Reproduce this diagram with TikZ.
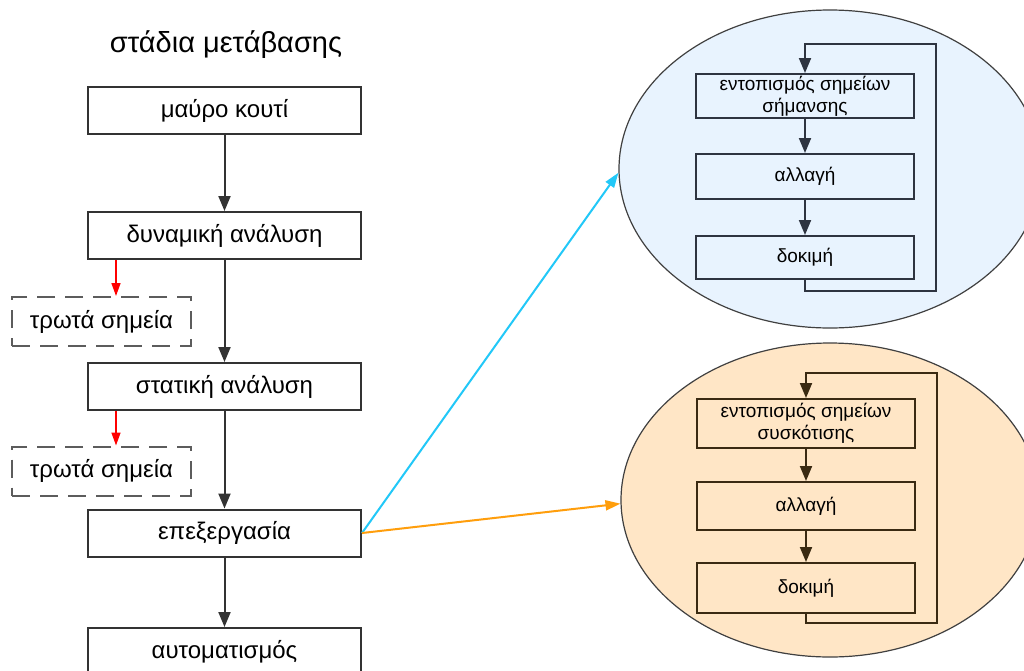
\documentclass[tikz,border=0pt]{standalone}
\usepackage{fontspec}
\setmainfont{Liberation Sans}
\usetikzlibrary{arrows.meta,shapes.geometric}
\definecolor{boxline}{HTML}{333333}
\definecolor{blueline}{HTML}{2E3440}
\definecolor{brownline}{HTML}{3A2A12}
\definecolor{bluefill}{HTML}{E8F3FE}
\definecolor{peachfill}{HTML}{FFE6C6}
\definecolor{cyanarrow}{HTML}{22C8F8}
\definecolor{orangearrow}{HTML}{FF9E0C}
\tikzset{
  mainbox/.style={draw=boxline, line width=2pt, minimum width=273pt, minimum height=47pt,
    inner sep=0pt, font=\fontsize{24}{28}\selectfont},
  weakbox/.style={draw=boxline!80, line width=2pt, dash pattern=on 18pt off 10pt,
    minimum width=179pt, minimum height=49pt, inner sep=0pt, font=\fontsize{24}{28}\selectfont},
  innerbox/.style={line width=2pt, minimum width=218pt, inner sep=0pt,
    align=center, font=\fontsize{19}{22}\selectfont},
  region/.style={ellipse, draw=black!75, line width=1.2pt, inner sep=0pt},
  arr/.style={line width=2pt, -{Triangle[length=15pt,width=12pt]}},
  redarr/.style={red, line width=1.5pt, -{Triangle[length=13pt,width=9pt]}},
}
\begin{document}
\begin{tikzpicture}[x=1pt,y=-1pt]
\clip (0,0) rectangle (1024,670);
\fill[white] (0,0) rectangle (1024,670);

% title
\node (title) at (226,45) {\fontsize{29}{34}\selectfont στάδια μετάβασης};

% main chain of stages
\node[mainbox] (mk)   at (224.5,110.5) {μαύρο κουτί};
\node[mainbox] (dyn)  at (224.5,235.5) {δυναμική ανάλυση};
\node[mainbox] (stat) at (224.5,386.5) {στατική ανάλυση};
\node[mainbox] (proc) at (224.5,533)   {επεξεργασία};
\node[mainbox] (auto) at (224.5,651.5) {αυτοματισμός};

% weak points found by the analyses
\node[weakbox] (w1) at (101.5,321.5) {τρωτά σημεία};
\node[weakbox] (w2) at (101.5,471)   {τρωτά σημεία};

\draw[arr, boxline] (mk)   -- (dyn);
\draw[arr, boxline] (dyn)  -- (stat);
\draw[arr, boxline] (stat) -- (proc);
\draw[arr, boxline] (proc) -- (auto);

\draw[redarr] (dyn.south -| w1.north) ++(14.5,0) coordinate (r1) -- (r1 |- w1.north);
\draw[redarr] (stat.south -| w2.north) ++(14.5,0) coordinate (r2) -- (r2 |- w2.north);

% watermark cycle
\node[region, fill=bluefill, minimum width=422pt, minimum height=318pt] (e1) at (830,169) {};
\node[innerbox, draw=blueline, minimum height=44pt] (b1) at (805,96)    {εντοπισμός σημείων\\σήμανσης};
\node[innerbox, draw=blueline, minimum height=45pt] (b2) at (805,176.5) {αλλαγή};
\node[innerbox, draw=blueline, minimum height=43pt] (b3) at (805,257.5) {δοκιμή};
\coordinate (lb1) at (936,291);
\coordinate (lt1) at (936,44);
\draw[arr, blueline] (b1) -- (b2);
\draw[arr, blueline] (b2) -- (b3);
\draw[arr, blueline] (b3.south) |- (lb1) -- (lt1) -| (b1.north);

% obfuscation cycle
\node[region, fill=peachfill, minimum width=418pt, minimum height=314pt] (e2) at (830,500) {};
\node[innerbox, draw=brownline, minimum height=49pt] (c1) at (806,423.5) {εντοπισμός σημείων\\συσκότισης};
\node[innerbox, draw=brownline, minimum height=48pt] (c2) at (806,506)   {αλλαγή};
\node[innerbox, draw=brownline, minimum height=50pt] (c3) at (806,588)   {δοκιμή};
\coordinate (lb2) at (937,623);
\coordinate (lt2) at (937,373);
\draw[arr, brownline] (c1) -- (c2);
\draw[arr, brownline] (c2) -- (c3);
\draw[arr, brownline] (c3.south) |- (lb2) -- (lt2) -| (c1.north);

% links from processing to the two cycles
\draw[cyanarrow, line width=2pt, -{Triangle[length=15pt,width=10pt]}] (proc.east) -- (e1.181);
\draw[orangearrow, line width=2pt, -{Triangle[length=15pt,width=10pt]}] (proc.east) -- (e2.181);
\end{tikzpicture}
\end{document}
